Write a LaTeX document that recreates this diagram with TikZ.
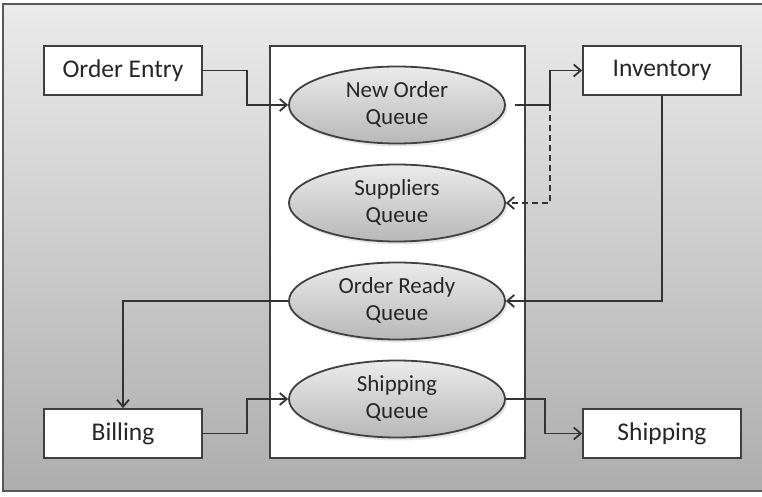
\documentclass[tikz,border=0pt]{standalone}
\usepackage{fontspec}
\setmainfont{Carlito}
\usetikzlibrary{arrows.meta,positioning,shapes.geometric,shadows}

\begin{document}
\begin{tikzpicture}[x=0.5pt,y=-0.5pt,
proc/.style={draw=black!75,line width=0.9pt,fill=white,text=black!85,minimum width=79pt,minimum height=24.5pt,inner sep=0pt,font=\fontsize{12.75}{15}\selectfont},
queue/.style={ellipse,draw=black!75,line width=0.9pt,top color=black!8,bottom color=black!28,text=black!85,minimum width=108pt,minimum height=38.5pt,inner sep=0pt,align=center,font=\fontsize{11.5}{13.5}\selectfont,drop shadow={opacity=0.2,shadow xshift=1pt,shadow yshift=-1.5pt}},
link/.style={->,>={Straight Barb[length=3.5pt,width=6pt]},black!80,line width=0.9pt}]
\useasboundingbox (0,0) rectangle (762,497);
% frame
\shade[top color=black!8,bottom color=black!32] (3,4) rectangle (762,491);
\draw[black!65,thick] (762,4) -| (3,491) -- (762,491);
\node[draw=black!75,line width=0.9pt,fill=white,minimum width=127.5pt,minimum height=206pt] (hub) at (397.5,252) {};
% outer boxes
\node[proc] (entry) at (123,70.5) {Order Entry};
\node[proc] (inv) at (662,70.5) {Inventory};
\node[proc] (bill) at (123,433.5) {Billing};
\node[proc] (ship) at (662,433.5) {Shipping};
% queues
\node[queue] (newq) at (397,105) {New Order\\Queue};
\node[queue] (supq) at (397,203) {Suppliers\\Queue};
\node[queue] (readyq) at (397,301) {Order Ready\\Queue};
\node[queue] (shipq) at (397,399) {Shipping\\Queue};
% connectors
\draw[link] (entry.east) -- ++(44,0) |- (newq.west);
\draw[link] ([xshift=4.5pt]newq.east) -- ++(35,0) coordinate (fork) |- (inv.west);
\draw[link,dash pattern=on 3pt off 2pt] (fork) |- (supq.east);
\draw[link] (inv.south) |- (readyq.east);
\draw[link] (readyq.west) -| (bill.north);
\draw[link] (bill.east) -- ++(44,0) |- (shipq.west);
\draw[link] (shipq.east) -- ++(39,0) |- (ship.west);
\end{tikzpicture}
\end{document}
